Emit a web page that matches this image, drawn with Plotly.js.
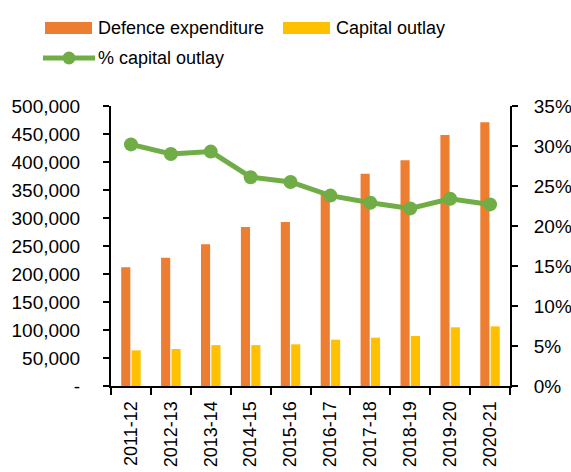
<!DOCTYPE html>
<html><head><meta charset="utf-8">
<script src="https://cdn.plot.ly/plotly-3.0.1.min.js"></script>
<style>html,body{margin:0;padding:0;background:#fff;overflow:hidden}#chart{width:571px;height:472px}</style>
</head><body><div id="chart"></div>
<script>
const years = ["2011-12","2012-13","2013-14","2014-15","2015-16","2016-17","2017-18","2018-19","2019-20","2020-21"];
const defenceExpenditure = [212000,229000,253000,284000,293000,347000,379000,403000,448000,471000];
const capitalOutlay = [63700,66000,73000,73000,74400,82700,86300,89300,104800,106500];
const pctCapitalOutlay = [0.302,0.290,0.293,0.261,0.255,0.238,0.229,0.222,0.234,0.227];
const seriesNames = ["Defence expenditure","Capital outlay","% capital outlay"];
const leftTickVals = [0,50000,100000,150000,200000,250000,300000,350000,400000,450000,500000];
const leftTickText = ["-","50,000","100,000","150,000","200,000","250,000","300,000","350,000","400,000","450,000","500,000"];

const W=571,H=472,L=111,R=61,T=106,B=86;
const pw=W-L-R, ph=H-T-B;
const px=x=>(x-L)/pw, py=y=>(H-B-y)/ph;
const FONT="Liberation Sans, Arial, sans-serif";
const orange="#ED7D31", yellow="#FFC000", green="#70AD47";

const traces=[
 {type:"bar",name:seriesNames[0],x:years,y:defenceExpenditure,marker:{color:orange},showlegend:false,hoverinfo:"skip"},
 {type:"bar",name:seriesNames[1],x:years,y:capitalOutlay,marker:{color:yellow},showlegend:false,hoverinfo:"skip"},
 {type:"scatter",mode:"lines+markers",name:seriesNames[2],x:years,y:pctCapitalOutlay,yaxis:"y2",
  line:{color:green,width:5},marker:{color:green,size:14},showlegend:false,hoverinfo:"skip",cliponaxis:false}
];

const shapes=[
 {type:"rect",xref:"paper",yref:"paper",x0:px(45),x1:px(92),y0:py(34),y1:py(22),fillcolor:orange,line:{width:0}},
 {type:"rect",xref:"paper",yref:"paper",x0:px(283),x1:px(330),y0:py(34),y1:py(22),fillcolor:yellow,line:{width:0}},
 {type:"line",xref:"paper",yref:"paper",x0:px(43),x1:px(95),y0:py(58),y1:py(58),line:{color:green,width:5}},
 {type:"circle",xref:"paper",yref:"paper",x0:px(62.5),x1:px(75.5),y0:py(64.5),y1:py(51.5),fillcolor:green,line:{width:0}}
];
const annotations=[
 {xref:"paper",yref:"paper",x:px(96),y:py(28),text:seriesNames[0],showarrow:false,xanchor:"left",yanchor:"middle",font:{size:18}},
 {xref:"paper",yref:"paper",x:px(334),y:py(28),text:seriesNames[1],showarrow:false,xanchor:"left",yanchor:"middle",font:{size:18}},
 {xref:"paper",yref:"paper",x:px(96),y:py(58),text:seriesNames[2],showarrow:false,xanchor:"left",yanchor:"middle",font:{size:18}}
];

const layout={
 width:W,height:H,margin:{l:L,r:R,t:T,b:B,pad:0},
 paper_bgcolor:"#fff",plot_bgcolor:"#fff",
 font:{family:FONT,size:19,color:"#000"},
 barmode:"group",bargap:0.48,bargroupgap:0.12,
 showlegend:false,
 xaxis:{type:"category",range:[-0.5,9.5],tickangle:-90,ticks:"outside",ticklen:7,tickwidth:2,tickcolor:"#000",
   tickson:"boundaries",showline:true,linecolor:"#000",linewidth:2,showgrid:false,zeroline:false,
   tickfont:{size:18},ticklabelstandoff:6,automargin:false},
 yaxis:{range:[0,500000],tickvals:leftTickVals,ticktext:leftTickText,ticks:"outside",ticklen:6,tickwidth:2,
   tickcolor:"#000",showline:true,linecolor:"#000",linewidth:2,showgrid:false,zeroline:false,automargin:false,
   ticklabelstandoff:19},
 yaxis2:{overlaying:"y",side:"right",range:[0,0.35],dtick:0.05,tick0:0,tickformat:".0%",ticks:"outside",ticklen:6,
   tickwidth:2,tickcolor:"#000",showline:true,linecolor:"#000",linewidth:2,showgrid:false,zeroline:false,automargin:false,
   ticklabelstandoff:12},
 shapes:shapes,annotations:annotations
};
Plotly.newPlot("chart",traces,layout,{staticPlot:true,displayModeBar:false});
</script></body></html>
